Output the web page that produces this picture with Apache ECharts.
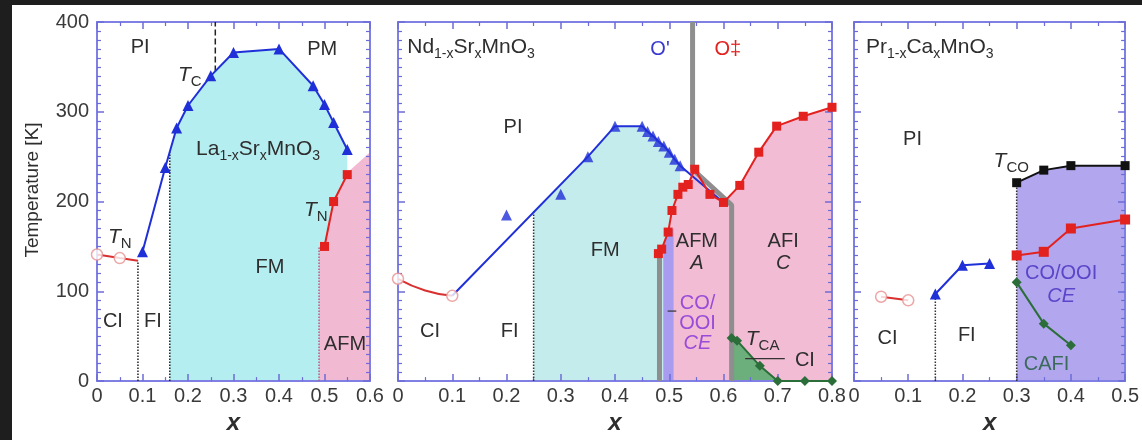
<!DOCTYPE html>
<html>
<head>
<meta charset="utf-8">
<script src="https://cdn.jsdelivr.net/npm/echarts@6/dist/echarts.min.js"></script>
<style>
  html, body { margin: 0; padding: 0; background: #fff; }
  #chart { width: 1142px; height: 440px; }
</style>
</head>
<body>
<div id="chart"></div>
<script>
const font = '"Liberation Sans", Arial, sans-serif';

// ---- La(1-x)Sr(x)MnO3 ----
const lsmoTc = [[0.1, 144], [0.15, 238], [0.175, 282], [0.2, 307], [0.25, 340], [0.3, 366], [0.4, 370], [0.475, 329], [0.5, 308], [0.52, 288], [0.55, 258]];
const lsmoTN = [[0.5, 150], [0.52, 200], [0.55, 230]];
const lsmoCI = [[0, 141], [0.05, 137], [0.09, 134]];
const lsmoFM = [[0.16, 0], [0.16, 255], [0.175, 282], [0.2, 307], [0.25, 340], [0.3, 366], [0.4, 370], [0.475, 329], [0.5, 308], [0.52, 288], [0.55, 258], [0.55, 0]];
const lsmoAFM = [[0.488, 0], [0.488, 150], [0.5, 150], [0.52, 200], [0.55, 232], [0.6, 255], [0.6, 0]];

// ---- Nd(1-x)Sr(x)MnO3 ----
const ndTc = [[0.2, 185], [0.3, 208], [0.35, 250], [0.4, 284], [0.45, 284], [0.46, 278], [0.47, 273], [0.48, 267], [0.49, 262], [0.5, 255], [0.51, 247], [0.52, 240]];
const ndTcLine = [[0.1, 95], [0.35, 250], [0.4, 284], [0.45, 284], [0.46, 278], [0.47, 273], [0.48, 267], [0.49, 262], [0.5, 255], [0.51, 247], [0.52, 240], [0.6, 199]];
const ndTN = [[0.48, 142], [0.486, 147], [0.498, 166], [0.505, 190], [0.516, 208], [0.525, 216], [0.535, 219], [0.547, 236], [0.575, 208], [0.6, 199], [0.63, 218], [0.665, 255], [0.698, 284], [0.747, 295], [0.8, 305]];
const ndTCA = [[0.615, 48], [0.625, 45], [0.667, 17], [0.7, 0], [0.75, 0], [0.8, 0]];
const ndCI = [[0, 114], [0.05, 101], [0.1, 95]];
const ndFM = [[0.25, 0], [0.25, 190], [0.35, 250], [0.4, 284], [0.45, 284], [0.46, 278], [0.47, 273], [0.48, 267], [0.49, 262], [0.5, 255], [0.51, 247], [0.52, 240], [0.52, 0]];
const ndAF = [[0.49, 0], [0.49, 142], [0.5, 166], [0.505, 190], [0.516, 208], [0.525, 216], [0.535, 219], [0.547, 236], [0.575, 208], [0.6, 199], [0.63, 218], [0.665, 255], [0.698, 284], [0.747, 295], [0.8, 305], [0.8, 0]];
const ndCE = [[0.489, 0], [0.489, 150], [0.498, 166], [0.508, 170], [0.508, 0]];
const ndCIzone = [[0.615, 0], [0.615, 48], [0.625, 45], [0.667, 17], [0.7, 0]];
const ndWallA = [[0.543, 400], [0.543, 236], [0.615, 196], [0.615, 0]];
const ndWallB = [[0.482, 0], [0.482, 142]];

// ---- Pr(1-x)Ca(x)MnO3 ----
const pcmTCO = [[0.3, 221], [0.35, 235], [0.4, 240], [0.5, 240]];
const pcmTN = [[0.3, 140], [0.35, 144], [0.4, 170], [0.5, 180]];
const pcmTc = [[0.15, 97], [0.2, 129], [0.25, 131]];
const pcmCA = [[0.3, 110], [0.35, 64], [0.4, 40]];
const pcmCI = [[0.05, 94], [0.1, 90]];
const pcmCO = [[0.3, 0], [0.3, 221], [0.35, 235], [0.4, 240], [0.5, 240], [0.5, 0]];

const xMax = [0.6, 0.8, 0.5];
const yTicks = [0, 100, 200, 300, 400];

const blue = '#2030d8', red = '#e3211f', green = '#2c6e3a', axisCol = '#8080e4', tickCol = '#6c6cd8', ink = '#2e2e2e';

const rich = {
  m: { fontSize: 21, fontFamily: font, color: ink, lineHeight: 28 },
  s: { fontSize: 14, fontFamily: font, color: ink, lineHeight: 28, verticalAlign: 'bottom' },
  t: { fontSize: 21, fontFamily: font, fontStyle: 'italic', color: ink, lineHeight: 28 },
  ts: { fontSize: 15, fontFamily: font, color: ink, lineHeight: 28, verticalAlign: 'bottom' }
};

// annotation text, [x, T, text, extra style]
const notes = [
  [
    [0.095, 372, 'PI'], [0.204, 341, '{t|T}{ts|C}'], [0.495, 369, 'PM'],
    [0.354, 258, '{m|La}{s|1-x}{m|Sr}{s|x}{m|MnO}{s|3}'],
    [0.05, 160, '{t|T}{ts|N}'], [0.481, 190, '{t|T}{ts|N}'],
    [0.38, 127, 'FM'], [0.035, 66, 'CI'], [0.123, 66, 'FI'], [0.545, 41, 'AFM']
  ],
  [
    [0.017, 372, '{m|Nd}{s|1-x}{m|Sr}{s|x}{m|MnO}{s|3}', { align: 'left' }],
    [0.483, 369, "O'", { fill: '#3a3ad0' }], [0.608, 369, 'O\u2021', { fill: red }],
    [0.212, 283, 'PI'], [0.382, 145, 'FM'],
    [0.551, 155, 'AFM'], [0.551, 131, 'A', { fontStyle: 'italic' }],
    [0.71, 155, 'AFI'], [0.71, 131, 'C', { fontStyle: 'italic' }],
    [0.552, 86, 'CO/', { fill: '#9a4bd8' }], [0.552, 64, 'OOI', { fill: '#9a4bd8' }],
    [0.552, 42, 'CE', { fill: '#9a4bd8', fontStyle: 'italic' }],
    [0.672, 47, '{t|T}{ts|CA}'], [0.75, 23, 'CI'],
    [0.059, 55, 'CI'], [0.206, 55, 'FI']
  ],
  [
    [0.022, 372, '{m|Pr}{s|1-x}{m|Ca}{s|x}{m|MnO}{s|3}', { align: 'left' }],
    [0.108, 269, 'PI'], [0.29, 245, '{t|T}{ts|CO}'],
    [0.382, 120, 'CO/OOI', { fill: '#5b45c8' }], [0.382, 94, 'CE', { fill: '#5b45c8', fontStyle: 'italic' }],
    [0.062, 48, 'CI'], [0.208, 51, 'FI'], [0.355, 18, 'CAFI', { fill: '#3c6a5c' }]
  ]
];

const grids = [
  { left: 97, top: 22, width: 273, height: 361 },
  { left: 398, top: 22, width: 434, height: 361 },
  { left: 854, top: 22, width: 272, height: 361 }
];

const xAxes = [], yAxes = [];
grids.forEach((g, i) => {
  ['bottom', 'top'].forEach(pos => {
    xAxes.push({
      type: 'value', gridIndex: i, position: pos, min: 0, max: xMax[i], interval: 0.1,
      name: pos === 'bottom' ? 'x' : '', nameLocation: 'middle', nameGap: 22,
      nameTextStyle: { fontFamily: font, fontSize: 24, fontStyle: 'italic', fontWeight: 'bold', color: ink },
      axisLine: { show: true, onZero: false, lineStyle: { color: axisCol, width: 2 } },
      axisTick: { show: true, inside: true, length: 7, lineStyle: { color: tickCol, width: 1.5 } },
      minorTick: { show: true, splitNumber: 2, length: 4, lineStyle: { color: tickCol, width: 1.2 } },
      axisLabel: { show: pos === 'bottom', fontFamily: font, fontSize: 20, color: '#3a3a3a', margin: 5 },
      splitLine: { show: false }
    });
  });
  ['left', 'right'].forEach(pos => {
    yAxes.push({
      type: 'value', gridIndex: i, position: pos, min: 0, max: 400, interval: 100,
      axisLine: { show: true, onZero: false, lineStyle: { color: axisCol, width: 2 } },
      axisTick: { show: true, inside: true, length: 7, lineStyle: { color: tickCol, width: 1.5 } },
      minorTick: { show: true, splitNumber: 10, length: 4, lineStyle: { color: tickCol, width: 1.2 } },
      axisLabel: { show: i === 0 && pos === 'left', fontFamily: font, fontSize: 20, color: '#3a3a3a', margin: 8,
        formatter: v => yTicks.includes(v) ? String(v) : '' },
      splitLine: { show: false }
    });
  });
});

function region(g, pts, color) {
  return {
    type: 'custom', xAxisIndex: 2 * g, yAxisIndex: 2 * g, data: [[pts[0][0], pts[0][1]]], silent: true, z: 0,
    renderItem: (params, api) => ({
      type: 'polygon', shape: { points: pts.map(p => api.coord(p)) }, style: { fill: color }
    })
  };
}

function curve(g, data, color, opts) {
  const o = opts || {};
  return {
    type: 'line', xAxisIndex: 2 * g, yAxisIndex: 2 * g, data: data, z: o.z || 8, clip: false,
    smooth: o.smooth || false, silent: true,
    symbol: o.symbol || 'none', symbolSize: o.size || 10,
    itemStyle: { color: color },
    lineStyle: { color: color, width: o.width || 2, type: o.type || 'solid' }
  };
}

function marks(g, data, color, symbol, size) {
  return {
    type: 'scatter', xAxisIndex: 2 * g, yAxisIndex: 2 * g, data: data, z: 9, clip: false, silent: true,
    symbol: symbol, symbolSize: size, itemStyle: { color: color }
  };
}

function openCircles(g, data) {
  return {
    type: 'scatter', xAxisIndex: 2 * g, yAxisIndex: 2 * g, data: data, z: 9, clip: false, silent: true,
    symbol: 'circle', symbolSize: 11, itemStyle: { color: '#fff', borderColor: '#e89090', borderWidth: 1.5 }
  };
}

function texts(g, items) {
  return {
    type: 'custom', xAxisIndex: 2 * g, yAxisIndex: 2 * g, silent: true, z: 12, clip: false,
    data: items.map(it => [it[0], it[1]]),
    renderItem: (params, api) => {
      const it = items[params.dataIndex];
      const p = api.coord([it[0], it[1]]);
      return {
        type: 'text', x: p[0], y: p[1],
        style: Object.assign({
          text: it[2], align: 'center', verticalAlign: 'middle',
          fontFamily: font, fontSize: 20, fill: ink, rich: rich
        }, it[3] || {})
      };
    }
  };
}

const series = [
  // panel 1
  region(0, lsmoFM, '#b5eef0'),
  region(0, lsmoAFM, '#f2b9d3'),
  curve(0, [[0.09, 0], [0.09, 134]], '#222', { type: 'dotted', width: 1.5, z: 4 }),
  curve(0, [[0.16, 0], [0.16, 255]], '#222', { type: 'dotted', width: 1.5, z: 4 }),
  curve(0, [[0.488, 0], [0.488, 150]], '#b06080', { type: 'dotted', width: 1.5, z: 4 }),
  curve(0, [[0.26, 345], [0.26, 400]], '#222', { type: 'dashed', width: 1.5, z: 4 }),
  curve(0, lsmoCI, '#d93030', { width: 2 }),
  openCircles(0, lsmoCI.slice(0, 2)),
  curve(0, lsmoTc, blue, { symbol: 'triangle', size: 11 }),
  curve(0, lsmoTN, red, { symbol: 'rect', size: 9 }),
  texts(0, notes[0]),

  // panel 2
  region(1, ndFM, '#c4ecec'),
  region(1, ndAF, '#f2bdd4'),
  region(1, ndCE, '#a99bf0'),
  region(1, ndCIzone, '#6cae7c'),
  curve(1, [[0.25, 0], [0.25, 190]], '#333', { type: 'dotted', width: 1.5, z: 4 }),
  curve(1, ndWallA, '#8e8e8e', { width: 5, z: 6 }),
  curve(1, ndWallB, '#8e8e8e', { width: 5, z: 6 }),
  curve(1, ndCI, '#d93030', { smooth: true }),
  openCircles(1, [ndCI[0], ndCI[2]]),
  curve(1, ndTcLine, blue),
  marks(1, ndTc, blue, 'triangle', 11),
  curve(1, ndTN, red, { symbol: 'rect', size: 9 }),
  curve(1, ndTCA, green, { symbol: 'diamond', size: 10 }),
  curve(1, [[0.64, 25], [0.713, 25]], '#333', { width: 1.2 }),
  curve(1, [[0.497, 78], [0.513, 78]], '#333', { width: 1.2, z: 9 }),
  texts(1, notes[1]),

  // panel 3
  region(2, pcmCO, '#b2a6ee'),
  curve(2, [[0.15, 0], [0.15, 97]], '#333', { type: 'dotted', width: 1.5, z: 4 }),
  curve(2, [[0.3, 0], [0.3, 221]], '#333', { type: 'dotted', width: 1.5, z: 4 }),
  curve(2, pcmCI, '#d93030'),
  openCircles(2, pcmCI),
  curve(2, pcmTc, blue, { symbol: 'triangle', size: 11 }),
  curve(2, pcmTN, red, { symbol: 'rect', size: 10 }),
  curve(2, pcmTCO, '#111', { symbol: 'rect', size: 9 }),
  curve(2, pcmCA, green, { symbol: 'diamond', size: 10 }),
  texts(2, notes[2])
];

const chart = echarts.init(document.getElementById('chart'), null, { renderer: 'canvas' });
chart.setOption({
  backgroundColor: '#fff',
  animation: false,
  grid: grids,
  xAxis: xAxes,
  yAxis: yAxes,
  series: series,
  graphic: [
    { type: 'rect', shape: { x: 0, y: 0, width: 1142, height: 5 }, style: { fill: '#1e1e1e' }, z: 100 },
    { type: 'rect', shape: { x: 0, y: 0, width: 12, height: 440 }, style: { fill: '#1e1e1e' }, z: 100 },
    { type: 'text', x: 33, y: 190, rotation: Math.PI / 2,
      style: { text: 'Temperature [K]', fontFamily: font, fontSize: 19, fill: ink, align: 'center', verticalAlign: 'middle' } }
  ]
});
</script>
</body>
</html>
